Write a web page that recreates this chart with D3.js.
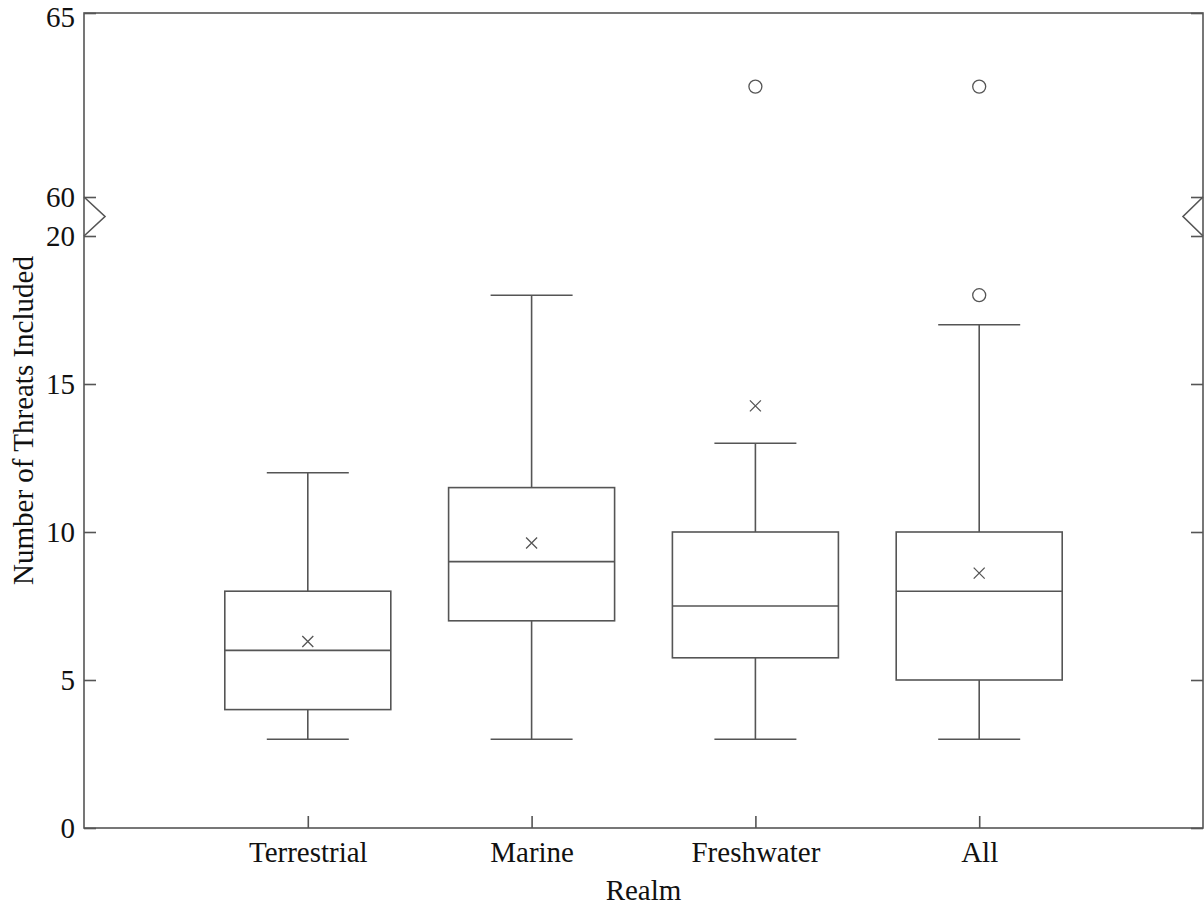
<!DOCTYPE html>
<html>
<head>
<meta charset="utf-8">
<script src="https://cdn.jsdelivr.net/npm/d3@7"></script>
<style>
  body { margin: 0; background: #fff; }
  text { font-family: "Liberation Serif", "Times New Roman", serif; fill: #111; }
</style>
</head>
<body>
<div id="chart"></div>
<script>
// data
var categories  = ["Terrestrial", "Marine", "Freshwater", "All"];
var whiskerLow  = [3, 3, 3, 3];
var q1          = [4, 7, 5.75, 5];
var median      = [6, 9, 7.5, 8];
var q3          = [8, 11.5, 10, 10];
var whiskerHigh = [12, 18, 13, 17];
var means       = [6.3, 9.63, 14.26, 8.61];
var outliers    = [[], [], [63], [18, 63]];
var lowTicks    = [0, 5, 10, 15, 20];
var highTicks   = [60, 65];

// set the dimensions and margins of the graph
var margin = {top: 13, right: 1, bottom: 77, left: 84},
    width = 1204 - margin.left - margin.right,
    height = 905 - margin.top - margin.bottom;

var lineColor = "#555";
var fontSize = "29px";

// broken y axis: two linear pieces
var yLow = d3.scaleLinear().domain([0, 20]).range([height, height - 592]);
var yHigh = d3.scaleLinear().domain([60, 65]).range([184, 0]);
function y(v) { return v > 40 ? yHigh(v) : yLow(v); }

var x = d3.scalePoint()
    .domain(categories)
    .range([0, width])
    .padding(1);

var svg = d3.select("#chart").append("svg")
    .attr("width", width + margin.left + margin.right)
    .attr("height", height + margin.top + margin.bottom)
    .append("g")
    .attr("transform", "translate(" + margin.left + "," + margin.top + ")");

// frame
svg.append("rect")
    .attr("width", width)
    .attr("height", height)
    .attr("fill", "none")
    .attr("stroke", lineColor)
    .attr("stroke-width", 1.6);

function styleAxis(g) {
    g.select(".domain").remove();
    g.attr("font-family", null).attr("font-size", null);
    g.selectAll(".tick line").attr("stroke", lineColor).attr("stroke-width", 1.6);
    g.selectAll(".tick text").style("font-size", fontSize).attr("fill", "#111");
}

// left axis (ticks point inwards)
svg.append("g")
    .call(d3.axisLeft(yLow).tickValues(lowTicks).tickFormat(d3.format("d")).tickSize(-12).tickPadding(9))
    .call(styleAxis);
svg.append("g")
    .call(d3.axisLeft(yHigh).tickValues(highTicks).tickFormat(d3.format("d")).tickSize(-12).tickPadding(9))
    .call(styleAxis)
    .selectAll(".tick text")
    .filter(function(d) { return d === 65; })
    .attr("dy", "0.46em");   // keep the top label inside the page

// right axis, ticks only
svg.append("g")
    .attr("transform", "translate(" + width + ",0)")
    .call(d3.axisRight(yLow).tickValues(lowTicks).tickSize(-12).tickFormat(""))
    .call(styleAxis);
svg.append("g")
    .attr("transform", "translate(" + width + ",0)")
    .call(d3.axisRight(yHigh).tickValues(highTicks).tickSize(-12).tickFormat(""))
    .call(styleAxis);

// bottom axis
svg.append("g")
    .attr("transform", "translate(0," + height + ")")
    .call(d3.axisBottom(x).tickSize(-12).tickPadding(13))
    .call(styleAxis);

// axis break marks
var yA = yHigh(60), yB = yLow(20), yM = (yA + yB) / 2;
svg.append("path")
    .attr("d", "M0," + yA + "L21," + yM + "L0," + yB)
    .attr("fill", "none").attr("stroke", lineColor).attr("stroke-width", 1.6);
svg.append("path")
    .attr("d", "M" + width + "," + yA + "L" + (width - 20) + "," + yM + "L" + width + "," + yB)
    .attr("fill", "none").attr("stroke", lineColor).attr("stroke-width", 1.6);

// boxes
var boxHalf = 83, capHalf = 41;
var groups = svg.selectAll(".box")
    .data(categories)
    .enter().append("g")
    .attr("class", "box")
    .attr("transform", function(d) { return "translate(" + x(d) + ",0)"; })
    .attr("stroke", lineColor)
    .attr("stroke-width", 1.6)
    .attr("fill", "none");

groups.each(function(d, i) {
    var g = d3.select(this);
    // whiskers
    g.append("line").attr("x1", 0).attr("x2", 0).attr("y1", y(whiskerLow[i])).attr("y2", y(q1[i]));
    g.append("line").attr("x1", 0).attr("x2", 0).attr("y1", y(q3[i])).attr("y2", y(whiskerHigh[i]));
    g.append("line").attr("x1", -capHalf).attr("x2", capHalf).attr("y1", y(whiskerLow[i])).attr("y2", y(whiskerLow[i]));
    g.append("line").attr("x1", -capHalf).attr("x2", capHalf).attr("y1", y(whiskerHigh[i])).attr("y2", y(whiskerHigh[i]));
    // box
    g.append("rect")
        .attr("x", -boxHalf).attr("width", boxHalf * 2)
        .attr("y", y(q3[i])).attr("height", y(q1[i]) - y(q3[i]));
    // median
    g.append("line").attr("x1", -boxHalf).attr("x2", boxHalf).attr("y1", y(median[i])).attr("y2", y(median[i]));
    // mean marker
    var my = y(means[i]), s = 5.5;
    g.append("path")
        .attr("stroke-width", 1.3)
        .attr("d", "M" + (-s) + "," + (my - s) + "L" + s + "," + (my + s) +
                   "M" + (-s) + "," + (my + s) + "L" + s + "," + (my - s));
    // outliers
    g.selectAll("circle")
        .data(outliers[i])
        .enter().append("circle")
        .attr("cx", 0)
        .attr("cy", function(v) { return y(v); })
        .attr("r", 6.5)
        .attr("stroke-width", 1.3);
});

// text label for the x axis
svg.append("text")
    .attr("x", width / 2)
    .attr("y", height + 72)
    .style("text-anchor", "middle")
    .style("font-size", fontSize)
    .text("Realm");

// text label for the y axis
svg.append("text")
    .attr("transform", "translate(" + (33 - margin.left) + "," + (height / 2) + ") rotate(-90)")
    .style("text-anchor", "middle")
    .style("font-size", fontSize)
    .text("Number of Threats Included");
</script>
</body>
</html>
